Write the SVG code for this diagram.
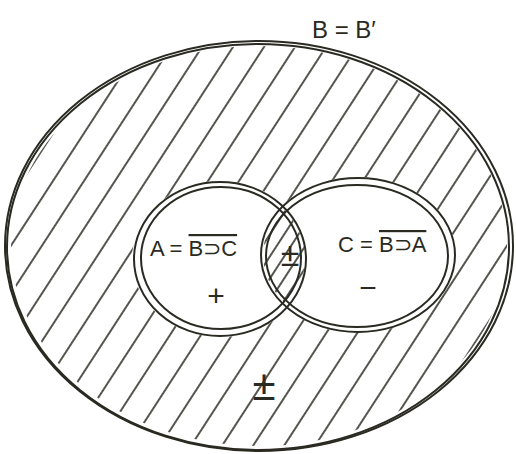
<svg xmlns="http://www.w3.org/2000/svg" width="516" height="454" viewBox="0 0 516 454">
<style>
.ln{fill:none;stroke:#2a2a22;stroke-width:2;stroke-linecap:round}
.t{font-family:"Liberation Sans",Arial,sans-serif;fill:#2a2a22}
</style>
<defs>
<pattern id="hatch" width="26" height="26" patternUnits="userSpaceOnUse" patternTransform="rotate(33)">
<line x1="13" y1="0" x2="13" y2="26" stroke="#2a2a22" stroke-width="1.6"/>
</pattern>
<pattern id="hatch2" width="12" height="12" patternUnits="userSpaceOnUse" patternTransform="rotate(33)">
<line x1="6" y1="0" x2="6" y2="12" stroke="#2a2a22" stroke-width="1.6"/>
</pattern>
<mask id="outerMask">
<ellipse cx="259" cy="246" rx="248" ry="200" fill="#fff"/>
<ellipse cx="220" cy="259" rx="88" ry="78" fill="#000"/>
<ellipse cx="358" cy="255" rx="98" ry="78" fill="#000"/>
</mask>
<clipPath id="clipC"><ellipse cx="358" cy="255" rx="95" ry="75"/></clipPath>
</defs>
<rect width="516" height="454" fill="#fff"/>
<g id="universe">
<rect x="0" y="0" width="516" height="454" fill="url(#hatch)" mask="url(#outerMask)"/>
<ellipse class="ln" cx="259" cy="246" rx="254" ry="205"/>
<ellipse class="ln" cx="258" cy="247" rx="251" ry="203" stroke-width="1.2"/>
<text class="t" x="312" y="38" font-size="24">B = B′</text>
<text class="t" x="264" y="400" font-size="42" text-anchor="middle">±</text>
</g>
<g id="intersection">
<g clip-path="url(#clipC)">
<ellipse cx="220" cy="259" rx="85" ry="75" fill="url(#hatch2)"/>
</g>
<text class="t" x="290" y="266" font-size="34" text-anchor="middle">±</text>
</g>
<g id="setA">
<ellipse class="ln" cx="220" cy="259" rx="86" ry="77"/>
<ellipse class="ln" cx="221" cy="258" rx="80" ry="71" stroke-width="1.6"/>
<text class="t" x="150" y="256" font-size="22">A = <tspan text-decoration="overline">B⊃C</tspan></text>
<text class="t" x="216" y="306" font-size="30" text-anchor="middle">+</text>
</g>
<g id="setC">
<ellipse class="ln" cx="358" cy="255" rx="97" ry="77"/>
<ellipse class="ln" cx="357" cy="256" rx="91" ry="71" stroke-width="1.6"/>
<text class="t" x="338" y="252" font-size="22">C = <tspan text-decoration="overline">B⊃A</tspan></text>
<text class="t" x="368" y="298" font-size="30" text-anchor="middle">−</text>
</g>
<g id="connectors"/>
</svg>
